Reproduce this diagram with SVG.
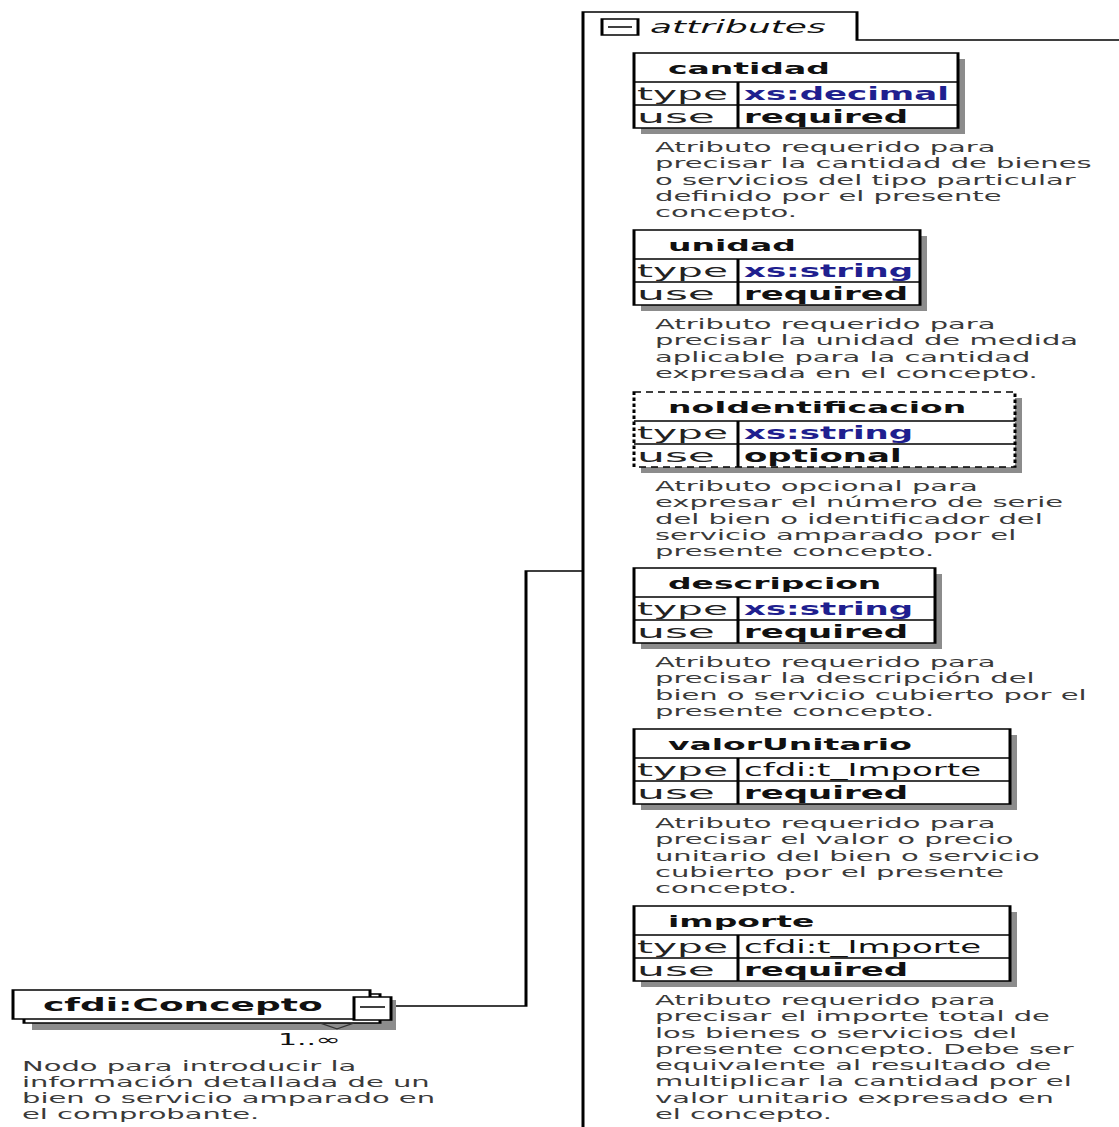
<svg xmlns="http://www.w3.org/2000/svg" width="1119" height="1127" viewBox="0 0 1119 1127">
<style>
.ln{fill:none;stroke:#000;stroke-width:1.5}
.box{fill:#fff;stroke:#000;stroke-width:1.5}
.dash{fill:#fff;stroke:#000;stroke-width:1.5;stroke-dasharray:3.5 2.5}
.sh{fill:#8c8c8c}
text{font-family:"DejaVu Sans","Liberation Sans",sans-serif}
.hd{font-weight:bold;font-size:16.5px;fill:#111}
.lb{font-size:17px;fill:#222}
.tv{font-size:17px;font-weight:bold;fill:#1f1f8f}
.uv{font-size:17px;font-weight:bold;fill:#111}
.rv{font-size:17px;fill:#111}
.ds{font-size:14.5px;fill:#3a3a3a}
.tab{font-size:18px;font-style:italic;fill:#111}
.nm{font-weight:bold;font-size:18px;fill:#111}
.mu{font-size:15px;fill:#111}
</style>
<rect width="1119" height="1127" fill="#fff"/>
<g transform="scale(2,1)">
  <g id="connectors">
    <path class="ln" d="M195.5 1006 H263 V571 H291.5"/>
  </g>
  <g id="attributes-panel">
    <path class="ln" d="M291.5 1127 V12 H428.5 V40 H560"/>
    <rect class="box" x="301" y="19" width="18" height="16"/>
    <line class="ln" x1="304" y1="27" x2="316" y2="27"/>
    <text class="tab" x="325" y="33">attributes</text>
  </g>
  <g id="cantidad">
    <rect class="sh" x="320.5" y="59" width="162" height="75"/>
    <rect class="box" x="317" y="53" width="162" height="75"/>
    <path class="ln" d="M317 82 H479 M317 105 H479 M369 82 V128"/>
    <text class="hd" x="334" y="74">cantidad</text>
    <text class="lb" x="318.5" y="100" textLength="45.5" lengthAdjust="spacingAndGlyphs">type</text>
    <text class="tv" x="372" y="100">xs:decimal</text>
    <text class="lb" x="318.5" y="123" textLength="39" lengthAdjust="spacingAndGlyphs">use</text>
    <text class="uv" x="372" y="123">required</text>
    <text class="ds" x="327.5" y="152">Atributo requerido para</text>
    <text class="ds" x="327.5" y="168.3">precisar la cantidad de bienes</text>
    <text class="ds" x="327.5" y="184.6">o servicios del tipo particular</text>
    <text class="ds" x="327.5" y="200.9">definido por el presente</text>
    <text class="ds" x="327.5" y="217.2">concepto.</text>
  </g>
  <g id="unidad">
    <rect class="sh" x="320.5" y="236" width="143" height="75"/>
    <rect class="box" x="317" y="230" width="143" height="75"/>
    <path class="ln" d="M317 259 H460 M317 282 H460 M369 259 V305"/>
    <text class="hd" x="334" y="251">unidad</text>
    <text class="lb" x="318.5" y="277" textLength="45.5" lengthAdjust="spacingAndGlyphs">type</text>
    <text class="tv" x="372" y="277">xs:string</text>
    <text class="lb" x="318.5" y="300" textLength="39" lengthAdjust="spacingAndGlyphs">use</text>
    <text class="uv" x="372" y="300">required</text>
    <text class="ds" x="327.5" y="329">Atributo requerido para</text>
    <text class="ds" x="327.5" y="345.3">precisar la unidad de medida</text>
    <text class="ds" x="327.5" y="361.6">aplicable para la cantidad</text>
    <text class="ds" x="327.5" y="377.9">expresada en el concepto.</text>
  </g>
  <g id="noIdentificacion">
    <rect class="sh" x="320.5" y="398" width="190.5" height="75"/>
    <rect class="dash" x="317" y="392" width="190.5" height="75"/>
    <path class="ln" d="M317 421 H507.5 M317 444 H507.5 M369 421 V467"/>
    <text class="hd" x="334" y="413">noIdentificacion</text>
    <text class="lb" x="318.5" y="439" textLength="45.5" lengthAdjust="spacingAndGlyphs">type</text>
    <text class="tv" x="372" y="439">xs:string</text>
    <text class="lb" x="318.5" y="462" textLength="39" lengthAdjust="spacingAndGlyphs">use</text>
    <text class="uv" x="372" y="462">optional</text>
    <text class="ds" x="327.5" y="491">Atributo opcional para</text>
    <text class="ds" x="327.5" y="507.3">expresar el número de serie</text>
    <text class="ds" x="327.5" y="523.6">del bien o identificador del</text>
    <text class="ds" x="327.5" y="539.9">servicio amparado por el</text>
    <text class="ds" x="327.5" y="556.2">presente concepto.</text>
  </g>
  <g id="descripcion">
    <rect class="sh" x="320.5" y="574" width="150.5" height="75"/>
    <rect class="box" x="317" y="568" width="150.5" height="75"/>
    <path class="ln" d="M317 597 H467.5 M317 620 H467.5 M369 597 V643"/>
    <text class="hd" x="334" y="589">descripcion</text>
    <text class="lb" x="318.5" y="615" textLength="45.5" lengthAdjust="spacingAndGlyphs">type</text>
    <text class="tv" x="372" y="615">xs:string</text>
    <text class="lb" x="318.5" y="638" textLength="39" lengthAdjust="spacingAndGlyphs">use</text>
    <text class="uv" x="372" y="638">required</text>
    <text class="ds" x="327.5" y="667">Atributo requerido para</text>
    <text class="ds" x="327.5" y="683.3">precisar la descripción del</text>
    <text class="ds" x="327.5" y="699.6">bien o servicio cubierto por el</text>
    <text class="ds" x="327.5" y="715.9">presente concepto.</text>
  </g>
  <g id="valorUnitario">
    <rect class="sh" x="320.5" y="735" width="188" height="75"/>
    <rect class="box" x="317" y="729" width="188" height="75"/>
    <path class="ln" d="M317 758 H505 M317 781 H505 M369 758 V804"/>
    <text class="hd" x="334" y="750">valorUnitario</text>
    <text class="lb" x="318.5" y="776" textLength="45.5" lengthAdjust="spacingAndGlyphs">type</text>
    <text class="rv" x="372" y="776">cfdi:t_Importe</text>
    <text class="lb" x="318.5" y="799" textLength="39" lengthAdjust="spacingAndGlyphs">use</text>
    <text class="uv" x="372" y="799">required</text>
    <text class="ds" x="327.5" y="828">Atributo requerido para</text>
    <text class="ds" x="327.5" y="844.3">precisar el valor o precio</text>
    <text class="ds" x="327.5" y="860.6">unitario del bien o servicio</text>
    <text class="ds" x="327.5" y="876.9">cubierto por el presente</text>
    <text class="ds" x="327.5" y="893.2">concepto.</text>
  </g>
  <g id="importe">
    <rect class="sh" x="320.5" y="912" width="188" height="75"/>
    <rect class="box" x="317" y="906" width="188" height="75"/>
    <path class="ln" d="M317 935 H505 M317 958 H505 M369 935 V981"/>
    <text class="hd" x="334" y="927">importe</text>
    <text class="lb" x="318.5" y="953" textLength="45.5" lengthAdjust="spacingAndGlyphs">type</text>
    <text class="rv" x="372" y="953">cfdi:t_Importe</text>
    <text class="lb" x="318.5" y="976" textLength="39" lengthAdjust="spacingAndGlyphs">use</text>
    <text class="uv" x="372" y="976">required</text>
    <text class="ds" x="327.5" y="1005">Atributo requerido para</text>
    <text class="ds" x="327.5" y="1021.3">precisar el importe total de</text>
    <text class="ds" x="327.5" y="1037.6">los bienes o servicios del</text>
    <text class="ds" x="327.5" y="1053.9">presente concepto. Debe ser</text>
    <text class="ds" x="327.5" y="1070.2">equivalente al resultado de</text>
    <text class="ds" x="327.5" y="1086.5">multiplicar la cantidad por el</text>
    <text class="ds" x="327.5" y="1102.8">valor unitario expresado en</text>
    <text class="ds" x="327.5" y="1119.1">el concepto.</text>
  </g>
  <g id="cfdi-Concepto">
    <rect class="sh" x="16" y="1000" width="182" height="30"/>
    <rect class="box" x="12" y="994" width="178" height="29"/>
    <rect class="box" x="6.5" y="990" width="178.5" height="29"/>
    <rect class="box" x="177" y="997" width="18.5" height="23"/>
    <line class="ln" x1="180" y1="1007" x2="192.5" y2="1007"/>
    <polyline points="160,1023 168.5,1029 177,1023" fill="none" stroke="#333" stroke-width="1"/>
    <text class="nm" x="21.5" y="1011">cfdi:Concepto</text>
    <text class="mu" x="139" y="1045">1..∞</text>
    <text class="ds" x="11" y="1071">Nodo para introducir la</text>
    <text class="ds" x="11" y="1087">información detallada de un</text>
    <text class="ds" x="11" y="1103">bien o servicio amparado en</text>
    <text class="ds" x="11" y="1119">el comprobante.</text>
  </g>
</g>
</svg>
